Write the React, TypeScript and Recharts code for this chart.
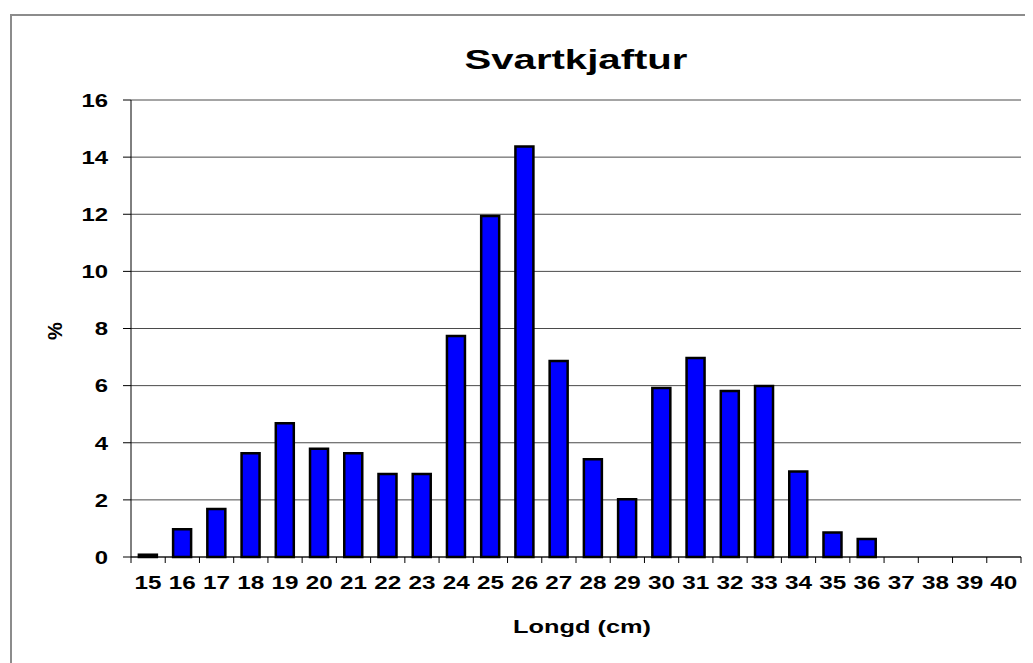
import React from "react";
import { BarChart, Bar, XAxis, YAxis, CartesianGrid } from "recharts";

const lengths = ["15","16","17","18","19","20","21","22","23","24","25","26","27","28","29","30","31","32","33","34","35","36","37","38","39","40"];
const percents = [0.08,0.97,1.68,3.63,4.68,3.79,3.63,2.91,2.91,7.74,11.94,14.37,6.86,3.42,2.02,5.92,6.97,5.81,5.99,2.99,0.86,0.63,0,0,0,0];
const yTicks = [0,2,4,6,8,10,12,14,16];
const titleText = "Svartkjaftur";
const xLabelText = "Longd (cm)";
const yLabelText = "%";

const data = lengths.map((l, i) => ({ length: l, pct: percents[i] }));

const FONT = "'Liberation Sans', Arial, sans-serif";
const W = 1025;
const H = 655;

const XTick = (props: any) => {
  const { x, y, payload, index, visibleTicksCount } = props;
  const half = payload && payload.offset ? payload.offset : 17.1;
  const isLast = index === (visibleTicksCount ?? lengths.length) - 1;
  return (
    <g>
      <line x1={x - half} x2={x - half} y1={y} y2={y + 6} stroke="#000" strokeWidth={1} />
      {isLast && <line x1={x + half} x2={x + half} y1={y} y2={y + 6} stroke="#000" strokeWidth={1} />}
      <text
        x={x}
        y={y + 25}
        textAnchor="middle"
        dy="0.36em"
        fontFamily={FONT}
        fontWeight="bold"
        fontSize={19}
        fill="#000"
        textLength={27}
        lengthAdjust="spacingAndGlyphs"
      >
        {payload.value}
      </text>
    </g>
  );
};

const YTick = (props: any) => {
  const { x, y, payload } = props;
  const s = String(payload.value);
  return (
    <text
      x={x}
      y={y}
      textAnchor="end"
      dy="0.36em"
      fontFamily={FONT}
      fontWeight="bold"
      fontSize={19}
      fill="#000"
      textLength={s.length * 13.3}
      lengthAdjust="spacingAndGlyphs"
    >
      {s}
    </text>
  );
};

export default function App() {
  return (
    <div style={{ position: "relative", width: W, height: H, overflow: "hidden", background: "#fff" }}>
      <div
        style={{
          position: "absolute",
          left: 2,
          top: 6,
          width: 1200,
          height: 900,
          border: "2px solid #8c8c8c",
          boxSizing: "border-box",
        }}
      />
      <div style={{ position: "absolute", left: 0, top: 0 }}>
        <BarChart
          width={W}
          height={H}
          data={data}
          margin={{ top: 92, right: 12, bottom: 66, left: 63 }}
          barCategoryGap="23%"
        >
          <CartesianGrid vertical={false} stroke="#4a4a4a" strokeWidth={1} />
          <XAxis
            dataKey="length"
            tickLine={false}
            tickSize={0}
            tickMargin={0}
            height={40}
            axisLine={{ stroke: "#000", strokeWidth: 1 }}
            tick={<XTick />}
            interval={0}
          />
          <YAxis
            domain={[0, 16]}
            ticks={yTicks}
            width={60}
            tickSize={8}
            tickMargin={15}
            axisLine={{ stroke: "#000", strokeWidth: 1 }}
            tickLine={{ stroke: "#000", strokeWidth: 1 }}
            tick={<YTick />}
            interval={0}
          />
          <Bar dataKey="pct" fill="#0000ff" stroke="#000" strokeWidth={2.5} isAnimationActive={false} />
        </BarChart>
      </div>
      <svg
        width={W}
        height={H}
        style={{ position: "absolute", left: 0, top: 0, pointerEvents: "none" }}
      >
        <text
          x={568}
          y={61}
          textAnchor="middle"
          fontFamily={FONT}
          fontWeight="bold"
          fontSize={28}
          fill="#000"
          textLength={223}
          lengthAdjust="spacingAndGlyphs"
        >
          {titleText}
        </text>
        <text
          x={574}
          y={625}
          textAnchor="middle"
          fontFamily={FONT}
          fontWeight="bold"
          fontSize={19}
          fill="#000"
          textLength={138}
          lengthAdjust="spacingAndGlyphs"
        >
          {xLabelText}
        </text>
        <text
          x={47}
          y={323}
          textAnchor="middle"
          dy="0.36em"
          transform="rotate(-90 47 323)"
          fontFamily={FONT}
          fontWeight="bold"
          fontSize={20}
          fill="#000"
        >
          {yLabelText}
        </text>
      </svg>
    </div>
  );
}
